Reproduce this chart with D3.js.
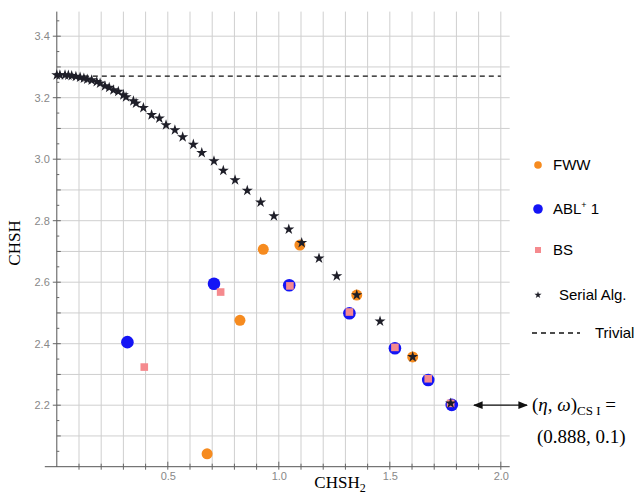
<!DOCTYPE html>
<html>
<head>
<meta charset="utf-8">
<script src="https://cdn.jsdelivr.net/npm/d3@7"></script>
<style>
  body { margin: 0; background: #fff; }
  svg { display: block; }
</style>
</head>
<body>
<div id="chart"></div>
<script>
// values
const serialX = [0.0, 0.014, 0.037, 0.052, 0.067, 0.086, 0.105, 0.122, 0.137, 0.157, 0.18, 0.195, 0.217, 0.236, 0.255, 0.277, 0.3, 0.312, 0.345, 0.357, 0.39, 0.427, 0.462, 0.492, 0.532, 0.567, 0.615, 0.653, 0.708, 0.75, 0.803, 0.858, 0.918, 0.978, 1.045, 1.103, 1.181, 1.261, 1.351, 1.456, 1.603, 1.774];
const serialY = [3.274, 3.274, 3.274, 3.273, 3.271, 3.269, 3.266, 3.263, 3.26, 3.257, 3.252, 3.247, 3.238, 3.233, 3.225, 3.22, 3.209, 3.202, 3.189, 3.182, 3.167, 3.144, 3.133, 3.111, 3.095, 3.072, 3.048, 3.021, 2.994, 2.963, 2.932, 2.898, 2.86, 2.815, 2.772, 2.728, 2.678, 2.62, 2.558, 2.473, 2.357, 2.206];

const fwwX = [0.677, 0.825, 0.93, 1.095, 1.351, 1.603];
const fwwY = [2.042, 2.476, 2.707, 2.721, 2.558, 2.357];

const ablX = [0.318, 0.708, 1.047, 1.318, 1.523, 1.673, 1.779];
const ablY = [2.405, 2.595, 2.59, 2.499, 2.385, 2.282, 2.201];

const bsX = [0.394, 0.738, 1.05, 1.318, 1.523, 1.673, 1.774];
const bsY = [2.324, 2.568, 2.588, 2.503, 2.388, 2.286, 2.206];

const trivialY = 3.27;

const xTicks = [0.5, 1.0, 1.5, 2.0];
const yTicks = [2.2, 2.4, 2.6, 2.8, 3.0, 3.2, 3.4];

const legendLabels = ["FWW", "ABL", "BS", "Serial Alg.", "Trivial"];

const width = 639;
const height = 497;

const svg = d3.select("#chart")
  .append("svg")
  .attr("width", width)
  .attr("height", height);

const x = d3.scaleLinear().domain([0, 2.04]).range([56.8, 509.7]);
const y = d3.scaleLinear().domain([2.0, 3.48]).range([466.7, 11.6]);

// grid
svg.append("g")
  .selectAll("line")
  .data(d3.range(1, 21).map(i => i / 10))
  .join("line")
  .attr("x1", d => x(d)).attr("x2", d => x(d))
  .attr("y1", y(3.48)).attr("y2", y(2.0))
  .attr("stroke", "#cfcfcf").attr("stroke-width", 1);

svg.append("g")
  .selectAll("line")
  .data(d3.range(21, 35).map(i => i / 10))
  .join("line")
  .attr("x1", x(0)).attr("x2", x(2.04))
  .attr("y1", d => y(d)).attr("y2", d => y(d))
  .attr("stroke", "#cfcfcf").attr("stroke-width", 1);

// axes
const xAxis = d3.axisBottom(x).tickValues(xTicks).tickFormat(d3.format(".1f")).tickSize(0).tickPadding(6);
const gx = svg.append("g").attr("transform", `translate(0, ${y(2.0)})`).call(xAxis);
gx.select(".domain").attr("stroke", "#555").attr("d", `M${x(0) - 12},0H${x(2.04)}`);
gx.selectAll("text").attr("fill", "#888").style("font", "11px 'Liberation Sans', Arial, sans-serif");

gx.append("g").selectAll("line")
  .data(d3.range(1, 21).map(i => i / 10))
  .join("line")
  .attr("x1", d => x(d)).attr("x2", d => x(d))
  .attr("y1", d => (Math.round(d * 10) % 5 === 0 ? -5 : -3)).attr("y2", 3)
  .attr("stroke", "#666");

const yAxis = d3.axisLeft(y).tickValues(yTicks).tickFormat(d3.format(".1f")).tickSize(0).tickPadding(7);
const gy = svg.append("g").attr("transform", `translate(${x(0)}, 0)`).call(yAxis);
gy.select(".domain").attr("stroke", "#555").attr("d", `M0,${y(3.48)}V${y(2.0)}`);
gy.selectAll("text").attr("fill", "#888").style("font", "11px 'Liberation Sans', Arial, sans-serif");

gy.append("g").selectAll("line")
  .data(d3.range(41, 70).map(i => i / 20))
  .join("line")
  .attr("y1", d => y(d)).attr("y2", d => y(d))
  .attr("x1", d => (Math.round(d * 10) % 2 === 0 && Math.round(d * 20) % 2 === 0 ? -4 : 0))
  .attr("x2", d => (Math.round(d * 20) % 2 === 0 ? 4 : 2.5))
  .attr("stroke", "#666");

// axis titles
svg.append("text")
  .attr("transform", `translate(20, 243) rotate(-90)`)
  .attr("text-anchor", "middle")
  .style("font", "17px 'Liberation Serif', 'Times New Roman', serif")
  .text("CHSH");

const xl = svg.append("text")
  .attr("x", 340).attr("y", 488)
  .attr("text-anchor", "middle")
  .style("font", "17px 'Liberation Serif', 'Times New Roman', serif");
xl.append("tspan").text("CHSH");
xl.append("tspan").attr("dy", 4).style("font-size", "12px").text("2");

// trivial line
svg.append("line")
  .attr("x1", x(0)).attr("x2", x(2.0))
  .attr("y1", y(trivialY)).attr("y2", y(trivialY))
  .attr("stroke", "#111").attr("stroke-width", 1.3)
  .attr("stroke-dasharray", "5,4");

const orange = "#f68b1f";
const blue = "#1414f5";
const pink = "#f58a8e";

svg.append("g").selectAll("circle")
  .data(d3.zip(fwwX, fwwY))
  .join("circle")
  .attr("cx", d => x(d[0])).attr("cy", d => y(d[1]))
  .attr("r", 5.5).attr("fill", orange);

svg.append("g").selectAll("circle")
  .data(d3.zip(ablX, ablY))
  .join("circle")
  .attr("cx", d => x(d[0])).attr("cy", d => y(d[1]))
  .attr("r", 6.3).attr("fill", blue);

svg.append("g").selectAll("rect")
  .data(d3.zip(bsX, bsY))
  .join("rect")
  .attr("x", d => x(d[0]) - 3.8).attr("y", d => y(d[1]) - 3.8)
  .attr("width", 7.6).attr("height", 7.6).attr("fill", pink);

const star = d3.symbol().type(d3.symbolStar).size(38);
svg.append("g").selectAll("path")
  .data(d3.zip(serialX, serialY))
  .join("path")
  .attr("transform", d => `translate(${x(d[0])}, ${y(d[1])})`)
  .attr("d", star)
  .attr("fill", "#1e1e28");

// legend
const lg = svg.append("g").style("font", "15px 'Liberation Sans', Arial, sans-serif");
const ly = [165, 209, 250, 295, 333];
lg.append("circle").attr("cx", 538).attr("cy", ly[0]).attr("r", 3.8).attr("fill", orange);
lg.append("circle").attr("cx", 538).attr("cy", ly[1]).attr("r", 4.8).attr("fill", blue);
lg.append("rect").attr("x", 535).attr("y", ly[2] - 3).attr("width", 6).attr("height", 6).attr("fill", pink);
lg.append("path").attr("transform", `translate(538, ${ly[3]})`).attr("d", d3.symbol().type(d3.symbolStar).size(16)).attr("fill", "#1e1e28");
lg.append("line").attr("x1", 532).attr("x2", 580).attr("y1", ly[4]).attr("y2", ly[4])
  .attr("stroke", "#111").attr("stroke-width", 1.3).attr("stroke-dasharray", "5,4");

lg.append("text").attr("x", 553).attr("y", ly[0] + 5).text(legendLabels[0]);
const abl = lg.append("text").attr("x", 553).attr("y", ly[1] + 5);
abl.append("tspan").text(legendLabels[1]);
abl.append("tspan").attr("dy", -6).style("font-size", "9px").text("+");
abl.append("tspan").attr("dy", 6).text(" 1");
lg.append("text").attr("x", 553).attr("y", ly[2] + 5).text(legendLabels[2]);
lg.append("text").attr("x", 559).attr("y", ly[3] + 5).text(legendLabels[3]);
lg.append("text").attr("x", 595).attr("y", ly[4] + 5).text(legendLabels[4]);

// annotation
svg.append("defs").append("marker")
  .attr("id", "ah").attr("viewBox", "0 0 10 10")
  .attr("refX", 9).attr("refY", 5)
  .attr("markerWidth", 8).attr("markerHeight", 8)
  .attr("orient", "auto-start-reverse")
  .append("path").attr("d", "M0,1L10,5L0,9z").attr("fill", "#111");

svg.append("line")
  .attr("x1", 474).attr("x2", 527)
  .attr("y1", y(2.2)).attr("y2", y(2.2))
  .attr("stroke", "#111").attr("stroke-width", 1.2)
  .attr("marker-start", "url(#ah)").attr("marker-end", "url(#ah)");

const ann = svg.append("g").style("font", "19px 'Liberation Serif', 'Times New Roman', serif");
const a1 = ann.append("text").attr("x", 532).attr("y", 411);
a1.append("tspan").text("(");
a1.append("tspan").style("font-style", "italic").text("η");
a1.append("tspan").text(", ");
a1.append("tspan").style("font-style", "italic").text("ω");
a1.append("tspan").text(")");
a1.append("tspan").attr("dy", 4).style("font-size", "13px").text("CS I");
a1.append("tspan").attr("dy", -4).text(" =");
ann.append("text").attr("x", 537).attr("y", 443).text("(0.888, 0.1)");
</script>
</body>
</html>
